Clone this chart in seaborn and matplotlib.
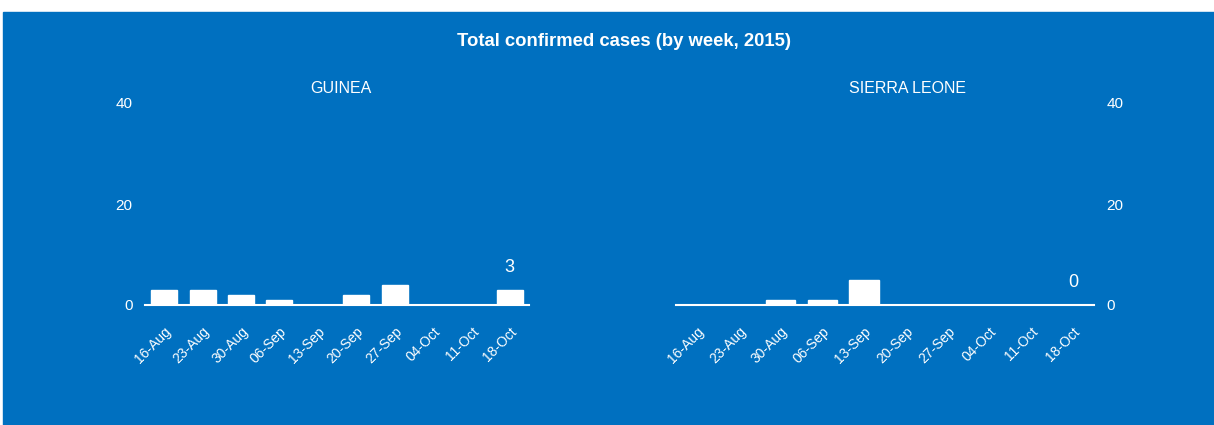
import numpy as np
import pandas as pd
import seaborn as sns
import matplotlib.pyplot as plt
from matplotlib.patches import Rectangle

weeks = ['16-Aug', '23-Aug', '30-Aug', '06-Sep', '13-Sep',
         '20-Sep', '27-Sep', '04-Oct', '11-Oct', '18-Oct']
guinea_cases = [3, 3, 2, 1, 0, 2, 4, 0, 0, 3]
sierra_leone_cases = [0, 0, 1, 1, 5, 0, 0, 0, 0, 0]
y_ticks = [0, 20, 40]

BLUE = '#0070C0'

sns.set_theme(style='white')
plt.rcParams['font.family'] = ['Liberation Sans Narrow', 'Liberation Sans', 'DejaVu Sans']

fig = plt.figure(figsize=(12.14, 4.25), dpi=100)
fig.patch.set_facecolor('white')
fig.patches.append(Rectangle((3 / 1214, 0), 1, (425 - 12) / 425,
                             transform=fig.transFigure, color=BLUE, zorder=-10))

fig.text(0.514, 0.903, 'Total confirmed cases (by week, 2015)', ha='center', va='center',
         color='white', fontsize=13.3, fontweight='bold')

bottom, top = (425 - 305) / 425, (425 - 103) / 425
ax1 = fig.add_axes([145 / 1214, bottom, (529 - 145) / 1214, top - bottom])
ax2 = fig.add_axes([676 / 1214, bottom, (1094 - 676) / 1214, top - bottom])


def draw(ax, values, title, title_x, side, width):
    df = pd.DataFrame({'week': weeks, 'cases': values})
    sns.barplot(data=df, x='week', y='cases', color='white', saturation=1,
                width=width, ax=ax, edgecolor='white')
    ax.set_facecolor('none')
    ax.set_zorder(5)
    ax.set_ylim(0, 40)
    ax.set_yticks(y_ticks)
    ax.set_xlabel('')
    ax.set_ylabel('')
    for s in ax.spines.values():
        s.set_visible(False)
    ax.spines['bottom'].set_visible(True)
    ax.spines['bottom'].set_color('white')
    ax.spines['bottom'].set_linewidth(1.5)
    ax.tick_params(axis='both', length=0, colors='white', labelsize=10)
    ax.tick_params(axis='y', labelsize=11, pad=9)
    ax.tick_params(axis='x', pad=14)
    for lbl in ax.get_xticklabels():
        lbl.set_rotation(45)
        lbl.set_rotation_mode('anchor')
        lbl.set_ha('right')
        lbl.set_va('top')
    if side == 'right':
        ax.yaxis.tick_right()
    labels = [''] * (len(values) - 1) + [str(values[-1])]
    ax.bar_label(ax.containers[0], labels=labels, padding=10, color='white', fontsize=13)
    ax.text(title_x, 1.074, title, transform=ax.transAxes, ha='center', va='center',
            color='white', fontsize=11.5)


draw(ax1, guinea_cases, 'GUINEA', 0.51, 'left', 0.68)
draw(ax2, sierra_leone_cases, 'SIERRA LEONE', 0.553, 'right', 0.7)

fig.savefig('out.png', dpi=100, facecolor=fig.get_facecolor())
